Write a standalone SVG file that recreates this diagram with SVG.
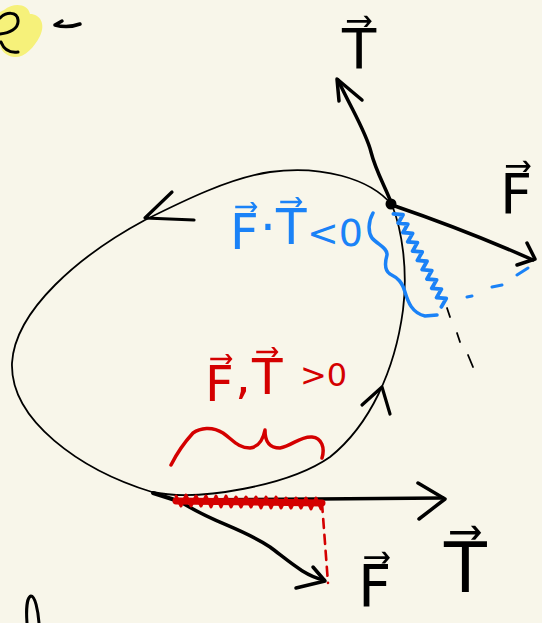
<svg xmlns="http://www.w3.org/2000/svg" width="542" height="623" viewBox="0 0 542 623">
<style>
.ink{fill:none;stroke:#000;stroke-linecap:round;stroke-linejoin:round}
.thin{stroke-width:1.8}
.thick{stroke-width:3.5}
.blue{fill:none;stroke:#1a82f7;stroke-linecap:round;stroke-linejoin:round}
.red{fill:none;stroke:#d40000;stroke-linecap:round;stroke-linejoin:round}
.lbl{font-family:"DejaVu Sans","Liberation Sans",sans-serif}
</style>
<rect x="0" y="0" width="542" height="623" fill="#f8f6ea"/>

<g id="corner-marks">
  <path d="M4 10 C14 2 28 4 30 14 C40 14 46 24 40 36 C34 48 24 58 14 57 C6 56 0 50 0 44 L0 12 Z" fill="#f6f17a"/>
  <path d="M0 34 C9 33 19 29 18 20 C17 11 6 12 0 18 M1 42 C4 50 10 53 18 52" class="ink" stroke-width="3"/>
  <path d="M55 25 L62 21 M55 25 C62 27 72 27 80 24" class="ink" stroke-width="3.5"/>
  <path d="M27 623 C26 610 27 597 31 596 C35 596 38 610 39 623" class="ink" stroke-width="3"/>
</g>

<g id="loop">
  <path d="M392 205 C370 178 320 165 270 172 C230 178 185 200 145 220 C80 255 15 310 12 363 C10 420 80 470 152 492 C200 502 290 485 330 457 C370 425 395 370 403 310 C408 270 402 230 392 205 Z" class="ink thin"/>
  <path d="M172 192 L145 218 L194 220" class="ink" stroke-width="3.2"/>
  <path d="M362 405 L382 387 L390 414" class="ink" stroke-width="3.2"/>
  <path d="M153 493 L175 500" class="ink" stroke-width="4"/>
</g>

<g id="connectors">
  <g id="top-T-vector">
    <path d="M392 205 C386 188 376 172 371 152 C366 132 352 110 338 80" class="ink thick"/>
    <path d="M339 101 L337 79 L362 100" class="ink thick"/>
  </g>
  <g id="top-F-vector">
    <path d="M392 205 C430 218 470 232 533 260" class="ink thick"/>
    <path d="M517 265 L535 259 L527 243" class="ink thick"/>
  </g>
  <circle cx="391" cy="204" r="5.5" fill="#000"/>
  <g id="bottom-T-vector">
    <path d="M175 500 C260 500 350 498 443 498" class="ink thick"/>
    <path d="M418 483 L445 499 L419 519" class="ink thick"/>
  </g>
  <g id="bottom-F-vector">
    <path d="M178 500 C210 522 240 527 270 547 C290 562 305 576 324 580" class="ink thick"/>
    <path d="M296 588 L325 581 L313 567" class="ink thick"/>
  </g>
</g>

<g id="projections">
  <path d="M176 501 L322 503" class="red" stroke-width="7"/>
  <path d="M176 496 L181 506 L186 495 L191 506 L196 496 L201 506 L206 496 L211 507 L216 496 L221 507 L226 496 L231 507 L236 497 L241 507 L246 497 L251 507 L256 497 L261 508 L266 497 L271 508 L276 497 L281 508 L286 498 L291 508 L296 498 L301 508 L306 498 L311 509 L316 498 L321 509" class="red" stroke-width="3"/>
  <path d="M322 503 L328 583" class="red" stroke-width="2.6" stroke-dasharray="9 7"/>
  <path d="M393.4 213.9 L403 214.75 L398.2 223.2 L407.8 224.05 L403 232.5 L412.6 233.35 L407.8 241.8 L417.4 242.65 L412.6 251.1 L422.2 251.95 L417.4 260.4 L427 261.25 L422.2 269.7 L431.8 270.55 L427 279 L436.6 279.85 L431.8 288.3 L441.4 289.15 L436.6 297.6 L446.2 298.45 L441.4 306.9" class="blue" stroke-width="3.8"/>
  <path d="M517 275 L528 268 M492 287 L502 285 M467 297 L472 296" class="blue" stroke-width="3"/>
  <path d="M447 308 L450 317 M457 333 L460 342 M468 355 L473 367" class="ink" stroke-width="1.8"/>
</g>

<g id="braces">
  <path d="M373 213 C368 222 368 232 372 238 C378 245 388 248 387 255 C385 262 384 270 390 274 C398 278 402 282 405 292 C408 302 412 313 425 316 L437 315" class="blue" stroke-width="3.5"/>
  <path d="M171 465 C176 455 182 445 193 433 C200 428 212 426 223 433 C233 440 238 448 250 448 C258 447 263 440 265 430 C265 440 268 448 280 448 C292 446 300 436 312 437 C322 438 325 448 322 458" class="red" stroke-width="3.5"/>
</g>

<g id="labels" class="lbl">
  <text id="label-T-top" x="342" y="68" font-size="56">T⃗</text>
  <text id="label-F-top" x="500" y="213" font-size="56">F⃗</text>
  <text id="label-T-bottom" x="444" y="592" font-size="70">T⃗</text>
  <text id="label-F-bottom" x="358" y="607" font-size="58">F⃗</text>
  <text id="label-neg" fill="#1a82f7" font-size="50"><tspan x="230" y="249">F⃗</tspan><tspan x="260" y="244">·</tspan><tspan x="276" y="244">T⃗</tspan><tspan x="307" y="246" font-size="38">&lt;0</tspan></text>
  <text id="label-pos" fill="#d40000" font-size="50"><tspan x="205" y="401">F⃗</tspan><tspan x="235" y="393">,</tspan><tspan x="252" y="394">T⃗</tspan><tspan x="300" y="386" font-size="32">&gt;0</tspan></text>
</g>
</svg>
